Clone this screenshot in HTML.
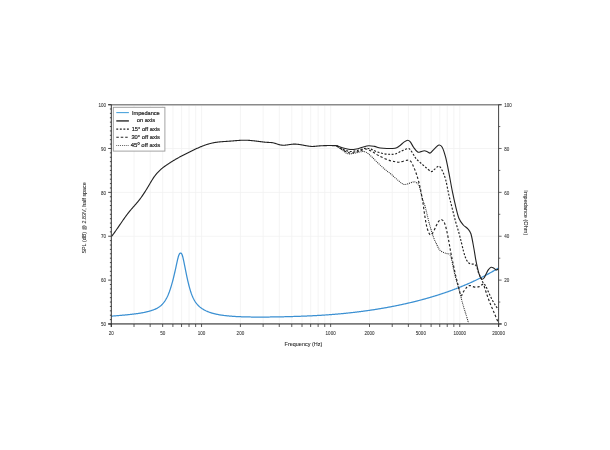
<!DOCTYPE html>
<html><head><meta charset="utf-8"><title>Frequency response</title>
<style>html,body{margin:0;padding:0;background:#fff;}svg{display:block;will-change:transform;}</style>
</head><body>
<svg width="610" height="450" viewBox="0 0 610 450">
<rect width="610" height="450" fill="#fff"/>
<path d="M134.03,105.60V324.00M150.16,105.60V324.00M162.67,105.60V324.00M172.90,105.60V324.00M181.54,105.60V324.00M189.03,105.60V324.00M195.63,105.60V324.00M201.54,105.60V324.00M240.40,105.60V324.00M263.13,105.60V324.00M279.26,105.60V324.00M291.77,105.60V324.00M302.00,105.60V324.00M310.64,105.60V324.00M318.13,105.60V324.00M324.73,105.60V324.00M330.64,105.60V324.00M369.50,105.60V324.00M392.23,105.60V324.00M408.36,105.60V324.00M420.87,105.60V324.00M431.10,105.60V324.00M439.74,105.60V324.00M447.23,105.60V324.00M453.83,105.60V324.00M459.74,105.60V324.00M111.30,236.24H498.60M111.30,192.36H498.60M111.30,148.48H498.60" stroke="#f1f1f1" stroke-width="0.8" fill="none"/>
<path d="M111.30,316.15 111.80,316.11 112.30,316.08 112.80,316.04 113.30,316.00 113.80,315.96 114.30,315.92 114.80,315.88 115.30,315.84 115.80,315.80 116.30,315.75 116.80,315.71 117.30,315.67 117.80,315.63 118.30,315.59 118.80,315.55 119.30,315.50 119.80,315.46 120.30,315.42 120.80,315.37 121.30,315.33 121.80,315.28 122.30,315.24 122.80,315.19 123.30,315.15 123.80,315.10 124.30,315.05 124.80,315.01 125.30,314.96 125.80,314.91 126.30,314.86 126.80,314.81 127.30,314.76 127.80,314.71 128.30,314.66 128.80,314.61 129.30,314.55 129.80,314.50 130.30,314.45 130.80,314.39 131.30,314.33 131.80,314.28 132.30,314.22 132.80,314.16 133.30,314.10 133.80,314.04 134.30,313.98 134.80,313.91 135.30,313.85 135.80,313.78 136.30,313.72 136.80,313.65 137.30,313.58 137.80,313.51 138.30,313.43 138.80,313.36 139.30,313.28 139.80,313.20 140.30,313.12 140.80,313.04 141.30,312.96 141.80,312.87 142.30,312.78 142.80,312.69 143.30,312.59 143.80,312.50 144.30,312.40 144.80,312.30 145.30,312.19 145.80,312.08 146.30,311.97 146.80,311.85 147.30,311.73 147.80,311.61 148.30,311.48 148.80,311.35 149.30,311.21 149.80,311.07 150.30,310.92 150.80,310.77 151.30,310.61 151.80,310.45 152.30,310.28 152.80,310.10 153.30,309.92 153.80,309.73 154.30,309.53 154.80,309.32 155.30,309.10 155.80,308.87 156.30,308.63 156.80,308.38 157.30,308.11 157.80,307.82 158.30,307.52 158.80,307.19 159.30,306.85 159.80,306.48 160.30,306.09 160.80,305.67 161.30,305.22 161.80,304.74 162.30,304.23 162.80,303.69 163.30,303.10 163.80,302.48 164.30,301.81 164.80,301.10 165.30,300.34 165.80,299.52 166.30,298.65 166.80,297.72 167.30,296.72 167.80,295.65 168.30,294.51 168.80,293.28 169.30,291.98 169.80,290.58 170.30,289.11 170.80,287.55 171.30,285.91 171.80,284.19 172.30,282.39 172.80,280.51 173.30,278.55 173.80,276.51 174.30,274.40 174.80,272.24 175.30,270.02 175.80,267.76 176.30,265.46 176.80,263.14 177.30,260.87 177.80,258.72 178.30,256.81 178.80,255.26 179.30,254.16 179.80,253.48 180.30,253.14 180.80,253.07 181.30,253.33 181.80,254.03 182.30,255.25 182.80,256.96 183.30,259.04 183.80,261.36 184.30,263.81 184.80,266.32 185.30,268.86 185.80,271.39 186.30,273.86 186.80,276.27 187.30,278.60 187.80,280.83 188.30,282.95 188.80,284.98 189.30,286.89 189.80,288.69 190.30,290.38 190.80,291.95 191.30,293.41 191.80,294.76 192.30,296.01 192.80,297.16 193.30,298.24 193.80,299.23 194.30,300.15 194.80,301.01 195.30,301.80 195.80,302.53 196.30,303.22 196.80,303.86 197.30,304.45 197.80,305.00 198.30,305.52 198.80,306.01 199.30,306.47 199.80,306.90 200.30,307.31 200.80,307.70 201.30,308.08 201.80,308.43 202.30,308.77 202.80,309.09 203.30,309.40 203.80,309.69 204.30,309.97 204.80,310.24 205.30,310.50 205.80,310.75 206.30,310.98 206.80,311.21 207.30,311.42 207.80,311.63 208.30,311.83 208.80,312.02 209.30,312.21 209.80,312.39 210.30,312.56 210.80,312.72 211.30,312.88 211.80,313.03 212.30,313.18 212.80,313.32 213.30,313.45 213.80,313.59 214.30,313.71 214.80,313.83 215.30,313.95 215.80,314.06 216.30,314.17 216.80,314.28 217.30,314.38 217.80,314.48 218.30,314.58 218.80,314.67 219.30,314.76 219.80,314.84 220.30,314.93 220.80,315.01 221.30,315.09 221.80,315.16 222.30,315.23 222.80,315.30 223.30,315.37 223.80,315.44 224.30,315.50 224.80,315.56 225.30,315.62 225.80,315.68 226.30,315.74 226.80,315.79 227.30,315.84 227.80,315.89 228.30,315.94 228.80,315.99 229.30,316.03 229.80,316.08 230.30,316.12 230.80,316.16 231.30,316.20 231.80,316.24 232.30,316.28 232.80,316.31 233.30,316.35 233.80,316.38 234.30,316.41 234.80,316.45 235.30,316.48 235.80,316.51 236.30,316.53 236.80,316.56 237.30,316.59 237.80,316.61 238.30,316.64 238.80,316.66 239.30,316.68 239.80,316.70 240.30,316.72 240.80,316.74 241.30,316.76 241.80,316.78 242.30,316.80 242.80,316.82 243.30,316.83 243.80,316.85 244.30,316.86 244.80,316.88 245.30,316.89 245.80,316.90 246.30,316.92 246.80,316.93 247.30,316.94 247.80,316.95 248.30,316.96 248.80,316.97 249.30,316.98 249.80,316.99 250.30,316.99 250.80,317.00 251.30,317.01 251.80,317.01 252.30,317.02 252.80,317.03 253.30,317.03 253.80,317.04 254.30,317.04 254.80,317.04 255.30,317.05 255.80,317.05 256.30,317.05 256.80,317.05 257.30,317.06 257.80,317.06 258.30,317.06 258.80,317.06 259.30,317.06 259.80,317.06 260.30,317.06 260.80,317.06 261.30,317.06 261.80,317.06 262.30,317.05 262.80,317.05 263.30,317.05 263.80,317.05 264.30,317.05 264.80,317.04 265.30,317.04 265.80,317.04 266.30,317.03 266.80,317.03 267.30,317.02 267.80,317.02 268.30,317.01 268.80,317.01 269.30,317.00 269.80,317.00 270.30,316.99 270.80,316.99 271.30,316.98 271.80,316.97 272.30,316.97 272.80,316.96 273.30,316.95 273.80,316.95 274.30,316.94 274.80,316.93 275.30,316.92 275.80,316.91 276.30,316.91 276.80,316.90 277.30,316.89 277.80,316.88 278.30,316.87 278.80,316.86 279.30,316.85 279.80,316.84 280.30,316.83 280.80,316.82 281.30,316.81 281.80,316.80 282.30,316.79 282.80,316.78 283.30,316.77 283.80,316.76 284.30,316.75 284.80,316.73 285.30,316.72 285.80,316.71 286.30,316.70 286.80,316.68 287.30,316.67 287.80,316.66 288.30,316.65 288.80,316.63 289.30,316.62 289.80,316.61 290.30,316.59 290.80,316.58 291.30,316.56 291.80,316.55 292.30,316.53 292.80,316.52 293.30,316.50 293.80,316.49 294.30,316.47 294.80,316.46 295.30,316.44 295.80,316.43 296.30,316.41 296.80,316.39 297.30,316.38 297.80,316.36 298.30,316.34 298.80,316.32 299.30,316.31 299.80,316.29 300.30,316.27 300.80,316.25 301.30,316.23 301.80,316.21 302.30,316.19 302.80,316.17 303.30,316.16 303.80,316.14 304.30,316.11 304.80,316.09 305.30,316.07 305.80,316.05 306.30,316.03 306.80,316.01 307.30,315.99 307.80,315.97 308.30,315.94 308.80,315.92 309.30,315.90 309.80,315.88 310.30,315.85 310.80,315.83 311.30,315.80 311.80,315.78 312.30,315.76 312.80,315.73 313.30,315.71 313.80,315.68 314.30,315.65 314.80,315.63 315.30,315.60 315.80,315.57 316.30,315.55 316.80,315.52 317.30,315.49 317.80,315.46 318.30,315.44 318.80,315.41 319.30,315.38 319.80,315.35 320.30,315.32 320.80,315.29 321.30,315.26 321.80,315.23 322.30,315.20 322.80,315.16 323.30,315.13 323.80,315.10 324.30,315.07 324.80,315.03 325.30,315.00 325.80,314.97 326.30,314.93 326.80,314.90 327.30,314.86 327.80,314.83 328.30,314.79 328.80,314.75 329.30,314.72 329.80,314.68 330.30,314.64 330.80,314.60 331.30,314.57 331.80,314.53 332.30,314.49 332.80,314.45 333.30,314.41 333.80,314.37 334.30,314.33 334.80,314.28 335.30,314.24 335.80,314.20 336.30,314.16 336.80,314.11 337.30,314.07 337.80,314.03 338.30,313.98 338.80,313.94 339.30,313.89 339.80,313.85 340.30,313.80 340.80,313.75 341.30,313.71 341.80,313.66 342.30,313.61 342.80,313.56 343.30,313.51 343.80,313.46 344.30,313.41 344.80,313.36 345.30,313.31 345.80,313.26 346.30,313.21 346.80,313.16 347.30,313.11 347.80,313.05 348.30,313.00 348.80,312.95 349.30,312.89 349.80,312.84 350.30,312.78 350.80,312.73 351.30,312.67 351.80,312.62 352.30,312.56 352.80,312.50 353.30,312.44 353.80,312.39 354.30,312.33 354.80,312.27 355.30,312.21 355.80,312.15 356.30,312.09 356.80,312.03 357.30,311.97 357.80,311.90 358.30,311.84 358.80,311.78 359.30,311.72 359.80,311.65 360.30,311.59 360.80,311.52 361.30,311.46 361.80,311.39 362.30,311.33 362.80,311.26 363.30,311.20 363.80,311.13 364.30,311.06 364.80,310.99 365.30,310.92 365.80,310.85 366.30,310.78 366.80,310.71 367.30,310.64 367.80,310.57 368.30,310.50 368.80,310.43 369.30,310.36 369.80,310.28 370.30,310.21 370.80,310.14 371.30,310.06 371.80,309.99 372.30,309.91 372.80,309.84 373.30,309.76 373.80,309.68 374.30,309.61 374.80,309.53 375.30,309.45 375.80,309.37 376.30,309.29 376.80,309.21 377.30,309.13 377.80,309.05 378.30,308.97 378.80,308.89 379.30,308.80 379.80,308.72 380.30,308.64 380.80,308.55 381.30,308.47 381.80,308.38 382.30,308.30 382.80,308.21 383.30,308.13 383.80,308.04 384.30,307.95 384.80,307.86 385.30,307.78 385.80,307.69 386.30,307.60 386.80,307.51 387.30,307.42 387.80,307.32 388.30,307.23 388.80,307.14 389.30,307.05 389.80,306.95 390.30,306.86 390.80,306.77 391.30,306.67 391.80,306.57 392.30,306.48 392.80,306.38 393.30,306.28 393.80,306.19 394.30,306.09 394.80,305.99 395.30,305.89 395.80,305.79 396.30,305.69 396.80,305.59 397.30,305.49 397.80,305.38 398.30,305.28 398.80,305.18 399.30,305.07 399.80,304.97 400.30,304.86 400.80,304.76 401.30,304.65 401.80,304.54 402.30,304.43 402.80,304.33 403.30,304.22 403.80,304.11 404.30,304.00 404.80,303.89 405.30,303.77 405.80,303.66 406.30,303.55 406.80,303.44 407.30,303.32 407.80,303.21 408.30,303.09 408.80,302.98 409.30,302.86 409.80,302.74 410.30,302.63 410.80,302.51 411.30,302.39 411.80,302.27 412.30,302.15 412.80,302.03 413.30,301.91 413.80,301.78 414.30,301.66 414.80,301.54 415.30,301.41 415.80,301.29 416.30,301.16 416.80,301.04 417.30,300.91 417.80,300.78 418.30,300.65 418.80,300.52 419.30,300.39 419.80,300.26 420.30,300.13 420.80,300.00 421.30,299.87 421.80,299.73 422.30,299.60 422.80,299.46 423.30,299.33 423.80,299.19 424.30,299.06 424.80,298.92 425.30,298.78 425.80,298.64 426.30,298.50 426.80,298.36 427.30,298.22 427.80,298.08 428.30,297.93 428.80,297.79 429.30,297.65 429.80,297.50 430.30,297.35 430.80,297.21 431.30,297.06 431.80,296.91 432.30,296.76 432.80,296.61 433.30,296.46 433.80,296.31 434.30,296.16 434.80,296.00 435.30,295.85 435.80,295.70 436.30,295.54 436.80,295.38 437.30,295.23 437.80,295.07 438.30,294.91 438.80,294.75 439.30,294.59 439.80,294.43 440.30,294.27 440.80,294.10 441.30,293.94 441.80,293.77 442.30,293.61 442.80,293.44 443.30,293.27 443.80,293.10 444.30,292.94 444.80,292.76 445.30,292.59 445.80,292.42 446.30,292.25 446.80,292.07 447.30,291.90 447.80,291.72 448.30,291.55 448.80,291.37 449.30,291.19 449.80,291.01 450.30,290.83 450.80,290.65 451.30,290.47 451.80,290.28 452.30,290.10 452.80,289.91 453.30,289.73 453.80,289.54 454.30,289.35 454.80,289.16 455.30,288.97 455.80,288.78 456.30,288.59 456.80,288.40 457.30,288.20 457.80,288.01 458.30,287.81 458.80,287.61 459.30,287.41 459.80,287.21 460.30,287.01 460.80,286.81 461.30,286.61 461.80,286.41 462.30,286.20 462.80,285.99 463.30,285.79 463.80,285.58 464.30,285.37 464.80,285.16 465.30,284.95 465.80,284.74 466.30,284.52 466.80,284.31 467.30,284.09 467.80,283.87 468.30,283.65 468.80,283.44 469.30,283.21 469.80,282.99 470.30,282.77 470.80,282.54 471.30,282.32 471.80,282.09 472.30,281.86 472.80,281.64 473.30,281.40 473.80,281.17 474.30,280.94 474.80,280.71 475.30,280.47 475.80,280.23 476.30,280.00 476.80,279.76 477.30,279.52 477.80,279.27 478.30,279.03 478.80,278.79 479.30,278.54 479.80,278.29 480.30,278.04 480.80,277.79 481.30,277.54 481.80,277.29 482.30,277.04 482.80,276.78 483.30,276.53 483.80,276.27 484.30,276.01 484.80,275.75 485.30,275.48 485.80,275.22 486.30,274.96 486.80,274.69 487.30,274.42 487.80,274.15 488.30,273.88 488.80,273.61 489.30,273.33 489.80,273.06 490.30,272.78 490.80,272.50 491.30,272.22 491.80,271.94 492.30,271.66 492.80,271.38 493.30,271.09 493.80,270.80 494.30,270.51 494.80,270.22 495.30,269.93 495.80,269.64 496.30,269.34 496.80,269.04 497.30,268.74 497.80,268.44 498.30,268.14" stroke="#3b90d2" stroke-width="1.25" fill="none" stroke-linejoin="round"/>
<path d="M336.60,145.80 C337.55,146.53 340.40,148.87 342.30,150.20 C344.20,151.53 345.90,153.32 348.00,153.80 C350.10,154.28 352.52,153.47 354.90,153.10 C357.28,152.73 360.38,151.72 362.30,151.60 C364.22,151.48 364.90,151.60 366.40,152.40 C367.90,153.20 369.53,154.78 371.30,156.40 C373.07,158.02 375.10,160.27 377.00,162.10 C378.90,163.93 380.98,165.87 382.70,167.40 C384.42,168.93 385.87,170.15 387.30,171.30 C388.73,172.45 389.97,173.18 391.30,174.30 C392.63,175.42 393.97,176.83 395.30,178.00 C396.63,179.17 398.18,180.38 399.30,181.30 C400.42,182.22 401.00,182.97 402.00,183.50 C403.00,184.03 404.08,184.53 405.30,184.50 C406.52,184.47 408.02,183.72 409.30,183.30 C410.58,182.88 412.00,182.20 413.00,182.00 C414.00,181.80 414.32,181.55 415.30,182.10 C416.28,182.65 417.75,182.65 418.90,185.30 C420.05,187.95 421.18,194.53 422.20,198.00 C423.22,201.47 424.17,203.27 425.00,206.10 C425.83,208.93 426.47,212.03 427.20,215.00 C427.93,217.97 428.65,221.12 429.40,223.90 C430.15,226.68 430.95,229.30 431.70,231.70 C432.45,234.10 433.07,236.18 433.90,238.30 C434.73,240.42 435.68,242.40 436.70,244.40 C437.72,246.40 438.48,248.82 440.00,250.30 C441.52,251.78 444.18,252.60 445.80,253.30 C447.42,254.00 448.73,253.50 449.70,254.50 C450.67,255.50 450.97,256.88 451.60,259.30 C452.23,261.72 452.70,265.45 453.50,269.00 C454.30,272.55 455.43,277.05 456.40,280.60 C457.37,284.15 458.33,286.75 459.30,290.30 C460.27,293.85 461.23,298.35 462.20,301.90 C463.17,305.45 464.13,308.38 465.10,311.60 C466.07,314.82 467.38,319.13 468.00,321.20 C468.62,323.27 468.67,323.53 468.80,324.00" stroke="#262626" stroke-width="1.05" fill="none" stroke-dasharray="0.95 0.95"/>
<path d="M336.60,145.80 C337.55,146.43 340.07,148.38 342.30,149.60 C344.53,150.82 347.35,152.78 350.00,153.10 C352.65,153.42 355.60,152.18 358.20,151.50 C360.80,150.82 363.55,149.13 365.60,149.00 C367.65,148.87 369.00,150.02 370.50,150.70 C372.00,151.38 373.23,152.28 374.60,153.10 C375.97,153.92 377.07,154.72 378.70,155.60 C380.33,156.48 382.35,157.52 384.40,158.40 C386.45,159.28 389.22,160.35 391.00,160.90 C392.78,161.45 393.82,161.48 395.10,161.70 C396.38,161.92 397.33,162.28 398.70,162.20 C400.07,162.12 401.80,161.53 403.30,161.20 C404.80,160.87 406.42,160.12 407.70,160.20 C408.98,160.28 410.00,160.57 411.00,161.70 C412.00,162.83 412.82,165.00 413.70,167.00 C414.58,169.00 415.53,171.48 416.30,173.70 C417.07,175.92 417.63,177.87 418.30,180.30 C418.97,182.73 419.55,184.68 420.30,188.30 C421.05,191.92 422.02,197.18 422.80,202.00 C423.58,206.82 424.27,212.82 425.00,217.20 C425.73,221.58 426.37,225.40 427.20,228.30 C428.03,231.20 429.07,233.85 430.00,234.60 C430.93,235.35 431.78,234.22 432.80,232.80 C433.82,231.38 435.08,228.05 436.10,226.10 C437.12,224.15 437.97,222.17 438.90,221.10 C439.83,220.03 440.78,219.42 441.70,219.70 C442.62,219.98 443.57,220.98 444.40,222.80 C445.23,224.62 445.95,227.45 446.70,230.60 C447.45,233.75 448.25,238.20 448.90,241.70 C449.55,245.20 449.98,248.33 450.60,251.60 C451.22,254.87 451.78,257.43 452.60,261.30 C453.42,265.17 454.53,270.62 455.50,274.80 C456.47,278.98 457.50,282.93 458.40,286.40 C459.30,289.87 460.10,294.63 460.90,295.60 C461.70,296.57 462.17,293.67 463.20,292.20 C464.23,290.73 465.97,287.90 467.10,286.80 C468.23,285.70 468.75,285.55 470.00,285.60 C471.25,285.65 473.07,286.93 474.60,287.10 C476.13,287.27 477.85,287.05 479.20,286.60 C480.55,286.15 481.92,284.57 482.70,284.40 C483.48,284.23 483.13,283.70 483.90,285.60 C484.67,287.50 486.15,292.57 487.30,295.80 C488.45,299.03 489.63,302.10 490.80,305.00 C491.97,307.90 493.10,310.37 494.30,313.20 C495.50,316.03 497.38,320.53 498.00,322.00" stroke="#222" stroke-width="1.15" fill="none" stroke-dasharray="2.4 2.0"/>
<path d="M336.60,145.80 C337.55,146.33 340.07,148.05 342.30,149.00 C344.53,149.95 347.35,151.30 350.00,151.50 C352.65,151.70 355.60,150.73 358.20,150.20 C360.80,149.67 363.55,148.50 365.60,148.30 C367.65,148.10 368.73,148.47 370.50,149.00 C372.27,149.53 374.15,150.75 376.20,151.50 C378.25,152.25 380.62,153.03 382.80,153.50 C384.98,153.97 387.25,154.22 389.30,154.30 C391.35,154.38 393.03,154.57 395.10,154.00 C397.17,153.43 399.60,151.80 401.70,150.90 C403.80,150.00 406.27,148.80 407.70,148.60 C409.13,148.40 409.30,148.63 410.30,149.70 C411.30,150.77 412.70,153.45 413.70,155.00 C414.70,156.55 415.20,157.73 416.30,159.00 C417.40,160.27 418.75,161.23 420.30,162.60 C421.85,163.97 423.80,165.72 425.60,167.20 C427.40,168.68 429.63,171.13 431.10,171.50 C432.57,171.87 433.10,170.30 434.40,169.40 C435.70,168.50 437.60,165.90 438.90,166.10 C440.20,166.30 441.08,168.38 442.20,170.60 C443.32,172.82 444.48,175.33 445.60,179.40 C446.72,183.47 447.80,190.18 448.90,195.00 C450.00,199.82 451.08,203.85 452.20,208.30 C453.32,212.75 454.48,217.62 455.60,221.70 C456.72,225.78 457.92,229.25 458.90,232.80 C459.88,236.35 460.72,239.88 461.50,243.00 C462.28,246.12 462.92,249.03 463.60,251.50 C464.28,253.97 464.82,255.95 465.60,257.80 C466.38,259.65 467.38,261.58 468.30,262.60 C469.22,263.62 470.08,263.60 471.10,263.90 C472.12,264.20 473.47,263.93 474.40,264.40 C475.33,264.87 476.05,265.40 476.70,266.70 C477.35,268.00 477.65,270.45 478.30,272.20 C478.95,273.95 479.85,275.53 480.60,277.20 C481.35,278.87 481.97,280.77 482.80,282.20 C483.63,283.63 484.55,283.92 485.60,285.80 C486.65,287.68 487.95,291.07 489.10,293.50 C490.25,295.93 491.35,298.28 492.50,300.40 C493.65,302.52 494.98,304.60 496.00,306.20 C497.02,307.80 498.17,309.37 498.60,310.00" stroke="#222" stroke-width="1.15" fill="none" stroke-dasharray="2.0 1.6"/>
<path d="M111.60,236.44 112.10,235.78 112.60,235.11 113.10,234.44 113.60,233.76 114.10,233.07 114.60,232.37 115.10,231.67 115.60,230.96 116.10,230.24 116.60,229.53 117.10,228.80 117.60,228.08 118.10,227.35 118.60,226.62 119.10,225.89 119.60,225.16 120.10,224.42 120.60,223.69 121.10,222.96 121.60,222.23 122.10,221.50 122.60,220.78 123.10,220.06 123.60,219.35 124.10,218.64 124.60,217.93 125.10,217.23 125.60,216.54 126.10,215.86 126.60,215.18 127.10,214.51 127.60,213.85 128.10,213.20 128.60,212.55 129.10,211.92 129.60,211.30 130.10,210.69 130.60,210.09 131.10,209.50 131.60,208.92 132.10,208.34 132.60,207.77 133.10,207.20 133.60,206.63 134.10,206.07 134.60,205.51 135.10,204.94 135.60,204.37 136.10,203.79 136.60,203.21 137.10,202.63 137.60,202.03 138.10,201.42 138.60,200.81 139.10,200.18 139.60,199.54 140.10,198.88 140.60,198.21 141.10,197.52 141.60,196.83 142.10,196.11 142.60,195.39 143.10,194.65 143.60,193.90 144.10,193.14 144.60,192.37 145.10,191.59 145.60,190.80 146.10,190.00 146.60,189.19 147.10,188.37 147.60,187.55 148.10,186.72 148.60,185.88 149.10,185.04 149.60,184.19 150.10,183.34 150.60,182.48 151.10,181.63 151.60,180.79 152.10,179.97 152.60,179.17 153.10,178.40 153.60,177.65 154.10,176.94 154.60,176.24 155.10,175.58 155.60,174.93 156.10,174.31 156.60,173.72 157.10,173.14 157.60,172.58 158.10,172.05 158.60,171.53 159.10,171.03 159.60,170.54 160.10,170.08 160.60,169.62 161.10,169.18 161.60,168.76 162.10,168.34 162.60,167.94 163.10,167.55 163.60,167.17 164.10,166.79 164.60,166.43 165.10,166.07 165.60,165.71 166.10,165.36 166.60,165.02 167.10,164.67 167.60,164.34 168.10,164.00 168.60,163.67 169.10,163.34 169.60,163.02 170.10,162.69 170.60,162.37 171.10,162.06 171.60,161.74 172.10,161.43 172.60,161.13 173.10,160.82 173.60,160.52 174.10,160.22 174.60,159.92 175.10,159.63 175.60,159.34 176.10,159.05 176.60,158.76 177.10,158.47 177.60,158.19 178.10,157.91 178.60,157.63 179.10,157.36 179.60,157.08 180.10,156.81 180.60,156.54 181.10,156.27 181.60,156.00 182.10,155.74 182.60,155.47 183.10,155.21 183.60,154.95 184.10,154.69 184.60,154.44 185.10,154.18 185.60,153.93 186.10,153.67 186.60,153.42 187.10,153.17 187.60,152.92 188.10,152.67 188.60,152.42 189.10,152.18 189.60,151.93 190.10,151.68 190.60,151.44 191.10,151.20 191.60,150.95 192.10,150.71 192.60,150.47 193.10,150.23 193.60,149.99 194.10,149.75 194.60,149.52 195.10,149.28 195.60,149.05 196.10,148.82 196.60,148.59 197.10,148.36 197.60,148.13 198.10,147.91 198.60,147.69 199.10,147.47 199.60,147.25 200.10,147.04 200.60,146.83 201.10,146.62 201.60,146.42 202.10,146.22 202.60,146.02 203.10,145.83 203.60,145.64 204.10,145.45 204.60,145.26 205.10,145.09 205.60,144.91 206.10,144.74 206.60,144.57 207.10,144.41 207.60,144.25 208.10,144.10 208.60,143.95 209.10,143.81 209.60,143.67 210.10,143.53 210.60,143.41 211.10,143.28 211.60,143.17 212.10,143.05 212.60,142.95 213.10,142.85 213.60,142.75 214.10,142.66 214.60,142.57 215.10,142.49 215.60,142.41 216.10,142.34 216.60,142.26 217.10,142.20 217.60,142.13 218.10,142.07 218.60,142.02 219.10,141.96 219.60,141.91 220.10,141.86 220.60,141.82 221.10,141.77 221.60,141.73 222.10,141.69 222.60,141.65 223.10,141.61 223.60,141.57 224.10,141.54 224.60,141.50 225.10,141.47 225.60,141.44 226.10,141.40 226.60,141.37 227.10,141.34 227.60,141.31 228.10,141.27 228.60,141.24 229.10,141.20 229.60,141.17 230.10,141.13 230.60,141.09 231.10,141.05 231.60,141.01 232.10,140.97 232.60,140.93 233.10,140.89 233.60,140.84 234.10,140.80 234.60,140.76 235.10,140.71 235.60,140.67 236.10,140.63 236.60,140.59 237.10,140.55 237.60,140.51 238.10,140.47 238.60,140.43 239.10,140.40 239.60,140.37 240.10,140.34 240.60,140.31 241.10,140.29 241.60,140.27 242.10,140.25 242.60,140.23 243.10,140.22 243.60,140.21 244.10,140.21 244.60,140.21 245.10,140.21 245.60,140.22 246.10,140.23 246.60,140.25 247.10,140.27 247.60,140.29 248.10,140.31 248.60,140.34 249.10,140.38 249.60,140.41 250.10,140.45 250.60,140.49 251.10,140.54 251.60,140.58 252.10,140.63 252.60,140.68 253.10,140.74 253.60,140.79 254.10,140.85 254.60,140.90 255.10,140.96 255.60,141.02 256.10,141.09 256.60,141.15 257.10,141.21 257.60,141.27 258.10,141.34 258.60,141.40 259.10,141.47 259.60,141.53 260.10,141.60 260.60,141.66 261.10,141.73 261.60,141.79 262.10,141.85 262.60,141.91 263.10,141.97 263.60,142.02 264.10,142.08 264.60,142.13 265.10,142.18 265.60,142.22 266.10,142.27 266.60,142.30 267.10,142.34 267.60,142.37 268.10,142.40 268.60,142.42 269.10,142.44 269.60,142.45 270.10,142.47 270.60,142.50 271.10,142.54 271.60,142.58 272.10,142.64 272.60,142.72 273.10,142.81 273.60,142.93 274.10,143.06 274.60,143.20 275.10,143.35 275.60,143.52 276.10,143.68 276.60,143.85 277.10,144.02 277.60,144.19 278.10,144.35 278.60,144.50 279.10,144.64 279.60,144.77 280.10,144.89 280.60,144.98 281.10,145.06 281.60,145.13 282.10,145.17 282.60,145.20 283.10,145.22 283.60,145.22 284.10,145.21 284.60,145.18 285.10,145.15 285.60,145.10 286.10,145.05 286.60,144.99 287.10,144.93 287.60,144.86 288.10,144.79 288.60,144.72 289.10,144.64 289.60,144.57 290.10,144.50 290.60,144.43 291.10,144.36 291.60,144.30 292.10,144.25 292.60,144.20 293.10,144.17 293.60,144.14 294.10,144.13 294.60,144.13 295.10,144.13 295.60,144.15 296.10,144.17 296.60,144.20 297.10,144.24 297.60,144.29 298.10,144.34 298.60,144.40 299.10,144.47 299.60,144.54 300.10,144.61 300.60,144.69 301.10,144.78 301.60,144.86 302.10,144.95 302.60,145.05 303.10,145.14 303.60,145.24 304.10,145.34 304.60,145.43 305.10,145.53 305.60,145.63 306.10,145.72 306.60,145.82 307.10,145.90 307.60,145.99 308.10,146.07 308.60,146.14 309.10,146.21 309.60,146.27 310.10,146.32 310.60,146.37 311.10,146.40 311.60,146.43 312.10,146.44 312.60,146.44 313.10,146.43 313.60,146.41 314.10,146.38 314.60,146.34 315.10,146.30 315.60,146.25 316.10,146.20 316.60,146.15 317.10,146.10 317.60,146.05 318.10,146.00 318.60,145.96 319.10,145.92 319.60,145.88 320.10,145.85 320.60,145.81 321.10,145.78 321.60,145.75 322.10,145.73 322.60,145.70 323.10,145.68 323.60,145.66 324.10,145.64 324.60,145.62 325.10,145.61 325.60,145.60 326.10,145.59 326.60,145.58 327.10,145.57 327.60,145.56 328.10,145.56 328.60,145.56 329.10,145.56 329.60,145.56 330.10,145.56 330.60,145.56 331.10,145.57 331.60,145.57 332.10,145.58 332.60,145.59 333.10,145.60 333.60,145.61 334.10,145.62 334.60,145.63 335.10,145.64 335.60,145.66 336.10,145.67 336.60,145.69 336.60,145.69 L336.60,145.70 C336.92,145.80 337.55,145.97 338.50,146.30 C339.45,146.63 340.38,147.17 342.30,147.70 C344.22,148.23 347.65,149.28 350.00,149.50 C352.35,149.72 354.32,149.38 356.40,149.00 C358.48,148.62 360.45,147.75 362.50,147.20 C364.55,146.65 366.70,145.83 368.70,145.70 C370.70,145.57 372.57,146.02 374.50,146.40 C376.43,146.78 378.23,147.65 380.30,148.00 C382.37,148.35 384.45,148.47 386.90,148.50 C389.35,148.53 392.98,148.57 395.00,148.20 C397.02,147.83 397.45,147.35 399.00,146.30 C400.55,145.25 402.85,142.90 404.30,141.90 C405.75,140.90 406.70,140.30 407.70,140.30 C408.70,140.30 409.30,140.70 410.30,141.90 C411.30,143.10 412.47,145.80 413.70,147.50 C414.93,149.20 416.48,151.42 417.70,152.10 C418.92,152.78 419.88,151.82 421.00,151.60 C422.12,151.38 423.28,150.75 424.40,150.80 C425.52,150.85 426.72,151.53 427.70,151.90 C428.68,152.27 429.18,153.52 430.30,153.00 C431.42,152.48 432.97,150.13 434.40,148.80 C435.83,147.47 437.60,145.27 438.90,145.00 C440.20,144.73 441.08,145.17 442.20,147.20 C443.32,149.23 444.48,152.93 445.60,157.20 C446.72,161.47 447.80,167.23 448.90,172.80 C450.00,178.37 451.08,185.05 452.20,190.60 C453.32,196.15 454.48,201.48 455.60,206.10 C456.72,210.72 457.62,215.15 458.90,218.30 C460.18,221.45 461.82,223.25 463.30,225.00 C464.78,226.75 466.52,227.30 467.80,228.80 C469.08,230.30 469.98,230.72 471.00,234.00 C472.02,237.28 473.13,244.35 473.90,248.50 C474.67,252.65 475.05,255.87 475.60,258.90 C476.15,261.93 476.65,264.30 477.20,266.70 C477.75,269.10 478.33,271.45 478.90,273.30 C479.47,275.15 480.05,276.82 480.60,277.80 C481.15,278.78 481.63,279.17 482.20,279.20 C482.77,279.23 483.35,278.87 484.00,278.00 C484.65,277.13 485.38,275.37 486.10,274.00 C486.82,272.63 487.47,270.92 488.30,269.80 C489.13,268.68 490.17,267.57 491.10,267.30 C492.03,267.03 493.07,267.75 493.90,268.20 C494.73,268.65 495.45,269.80 496.10,270.00 C496.75,270.20 497.38,269.63 497.80,269.40 C498.22,269.17 498.47,268.73 498.60,268.60" stroke="#222" stroke-width="1.1" fill="none" stroke-linejoin="round"/>
<path d="M108.2,104.80H501.6" stroke="#8a8a8a" stroke-width="1.6" fill="none"/>
<path d="M108.2,323.95H501.6" stroke="#7a7a7a" stroke-width="1.7" fill="none"/>
<path d="M111.30,104.60V327" stroke="#333" stroke-width="1" fill="none"/>
<path d="M498.60,104.60V327" stroke="#444" stroke-width="1" fill="none"/>
<path d="M108.2,324.00H111.30M109.9,319.61H111.30M109.9,315.22H111.30M109.9,310.84H111.30M109.9,306.45H111.30M109.9,302.06H111.30M109.9,297.67H111.30M109.9,293.28H111.30M109.9,288.90H111.30M109.9,284.51H111.30M108.2,280.12H111.30M109.9,275.73H111.30M109.9,271.34H111.30M109.9,266.96H111.30M109.9,262.57H111.30M109.9,258.18H111.30M109.9,253.79H111.30M109.9,249.40H111.30M109.9,245.02H111.30M109.9,240.63H111.30M108.2,236.24H111.30M109.9,231.85H111.30M109.9,227.46H111.30M109.9,223.08H111.30M109.9,218.69H111.30M109.9,214.30H111.30M109.9,209.91H111.30M109.9,205.52H111.30M109.9,201.14H111.30M109.9,196.75H111.30M108.2,192.36H111.30M109.9,187.97H111.30M109.9,183.58H111.30M109.9,179.20H111.30M109.9,174.81H111.30M109.9,170.42H111.30M109.9,166.03H111.30M109.9,161.64H111.30M109.9,157.26H111.30M109.9,152.87H111.30M108.2,148.48H111.30M109.9,144.09H111.30M109.9,139.70H111.30M109.9,135.32H111.30M109.9,130.93H111.30M109.9,126.54H111.30M109.9,122.15H111.30M109.9,117.76H111.30M109.9,113.38H111.30M109.9,108.99H111.30M108.2,104.60H111.30" stroke="#333" stroke-width="0.9" fill="none"/>
<path d="M498.60,324.00H501.6M498.60,302.06H500.3M498.60,280.12H501.6M498.60,258.18H500.3M498.60,236.24H501.6M498.60,214.30H500.3M498.60,192.36H501.6M498.60,170.42H500.3M498.60,148.48H501.6M498.60,126.54H500.3M498.60,104.60H501.6" stroke="#444" stroke-width="0.8" fill="none"/>
<path d="M111.30,324.00V327M134.03,324.00V327M150.16,324.00V327M162.67,324.00V327M172.90,324.00V327M181.54,324.00V327M189.03,324.00V327M195.63,324.00V327M201.54,324.00V327M240.40,324.00V327M263.13,324.00V327M279.26,324.00V327M291.77,324.00V327M302.00,324.00V327M310.64,324.00V327M318.13,324.00V327M324.73,324.00V327M330.64,324.00V327M369.50,324.00V327M392.23,324.00V327M408.36,324.00V327M420.87,324.00V327M431.10,324.00V327M439.74,324.00V327M447.23,324.00V327M453.83,324.00V327M459.74,324.00V327M498.60,324.00V327" stroke="#333" stroke-width="0.8" fill="none"/>
<g font-family="'Liberation Sans', sans-serif" fill="#3a3a3a" stroke="#3a3a3a" stroke-width="0.1">
<text x="106.10" y="326.20" font-size="5.50" text-anchor="end" textLength="5.04" lengthAdjust="spacingAndGlyphs">50</text>
<text x="106.10" y="282.32" font-size="5.50" text-anchor="end" textLength="5.04" lengthAdjust="spacingAndGlyphs">60</text>
<text x="106.10" y="238.44" font-size="5.50" text-anchor="end" textLength="5.04" lengthAdjust="spacingAndGlyphs">70</text>
<text x="106.10" y="194.56" font-size="5.50" text-anchor="end" textLength="5.04" lengthAdjust="spacingAndGlyphs">80</text>
<text x="106.10" y="150.68" font-size="5.50" text-anchor="end" textLength="5.04" lengthAdjust="spacingAndGlyphs">90</text>
<text x="106.10" y="106.80" font-size="5.50" text-anchor="end" textLength="7.56" lengthAdjust="spacingAndGlyphs">100</text>
<text x="504.20" y="326.20" font-size="5.50" text-anchor="start" textLength="2.52" lengthAdjust="spacingAndGlyphs">0</text>
<text x="504.20" y="282.32" font-size="5.50" text-anchor="start" textLength="5.04" lengthAdjust="spacingAndGlyphs">20</text>
<text x="504.20" y="238.44" font-size="5.50" text-anchor="start" textLength="5.04" lengthAdjust="spacingAndGlyphs">40</text>
<text x="504.20" y="194.56" font-size="5.50" text-anchor="start" textLength="5.04" lengthAdjust="spacingAndGlyphs">60</text>
<text x="504.20" y="150.68" font-size="5.50" text-anchor="start" textLength="5.04" lengthAdjust="spacingAndGlyphs">80</text>
<text x="504.20" y="106.80" font-size="5.50" text-anchor="start" textLength="7.56" lengthAdjust="spacingAndGlyphs">100</text>
<text x="111.30" y="334.90" font-size="5.50" text-anchor="middle" textLength="5.04" lengthAdjust="spacingAndGlyphs">20</text>
<text x="162.67" y="334.90" font-size="5.50" text-anchor="middle" textLength="5.04" lengthAdjust="spacingAndGlyphs">50</text>
<text x="201.54" y="334.90" font-size="5.50" text-anchor="middle" textLength="7.56" lengthAdjust="spacingAndGlyphs">100</text>
<text x="240.40" y="334.90" font-size="5.50" text-anchor="middle" textLength="7.56" lengthAdjust="spacingAndGlyphs">200</text>
<text x="330.64" y="334.90" font-size="5.50" text-anchor="middle" textLength="10.08" lengthAdjust="spacingAndGlyphs">1000</text>
<text x="369.50" y="334.90" font-size="5.50" text-anchor="middle" textLength="10.08" lengthAdjust="spacingAndGlyphs">2000</text>
<text x="420.87" y="334.90" font-size="5.50" text-anchor="middle" textLength="10.08" lengthAdjust="spacingAndGlyphs">5000</text>
<text x="459.74" y="334.90" font-size="5.50" text-anchor="middle" textLength="12.60" lengthAdjust="spacingAndGlyphs">10000</text>
<text x="498.60" y="334.90" font-size="5.50" text-anchor="middle" textLength="12.60" lengthAdjust="spacingAndGlyphs">20000</text>
</g>
<g font-family="'Liberation Sans', sans-serif" fill="#2b2b2b" stroke="#2b2b2b" stroke-width="0.08">
<text x="303.40" y="345.60" font-size="5.30" text-anchor="middle" textLength="37.60" lengthAdjust="spacingAndGlyphs">Frequency (Hz)</text>
<text transform="translate(86.3,217.9) rotate(-90)" x="0" y="0" font-size="5.4" text-anchor="middle" textLength="71.4" lengthAdjust="spacingAndGlyphs">SPL (dB) @ 2.83V, half space</text>
<text transform="translate(523.9,212.8) rotate(90)" x="0" y="0" font-size="5.4" text-anchor="middle" textLength="44.9" lengthAdjust="spacingAndGlyphs">Impedance (Ohm)</text>
</g>
<rect x="113.3" y="107.3" width="51.6" height="43.8" fill="#fff" stroke="#999" stroke-width="0.9"/>
<path d="M116.3,112.60H128.9" stroke="#4aa3dc" stroke-width="1.1"/>
<path d="M116.3,120.90H128.9" stroke="#5a5a5a" stroke-width="1.8"/>
<path d="M116.3,129.10H128.9" stroke="#222" stroke-width="1.1" stroke-dasharray="1.9 1.65"/>
<path d="M116.3,137.30H128.9" stroke="#222" stroke-width="1.1" stroke-dasharray="2.5 1.95"/>
<path d="M116.3,145.50H128.9" stroke="#444" stroke-width="0.9" stroke-dasharray="0.9 1.0"/>
<g font-family="'Liberation Sans', sans-serif" fill="#262626" stroke="#262626" stroke-width="0.2">
<text x="145.80" y="114.60" font-size="6.00" text-anchor="middle" textLength="27.80" lengthAdjust="spacingAndGlyphs">Impedance</text>
<text x="146.00" y="122.10" font-size="6.00" text-anchor="middle" textLength="18.40" lengthAdjust="spacingAndGlyphs">on axis</text>
<text x="145.80" y="130.60" font-size="6.00" text-anchor="middle" textLength="28.30" lengthAdjust="spacingAndGlyphs">15° off axis</text>
<text x="145.70" y="138.50" font-size="6.00" text-anchor="middle" textLength="28.60" lengthAdjust="spacingAndGlyphs">30° off axis</text>
<text x="145.50" y="146.80" font-size="6.00" text-anchor="middle" textLength="29.50" lengthAdjust="spacingAndGlyphs">45º off axis</text>
</g>
</svg>
</body></html>
